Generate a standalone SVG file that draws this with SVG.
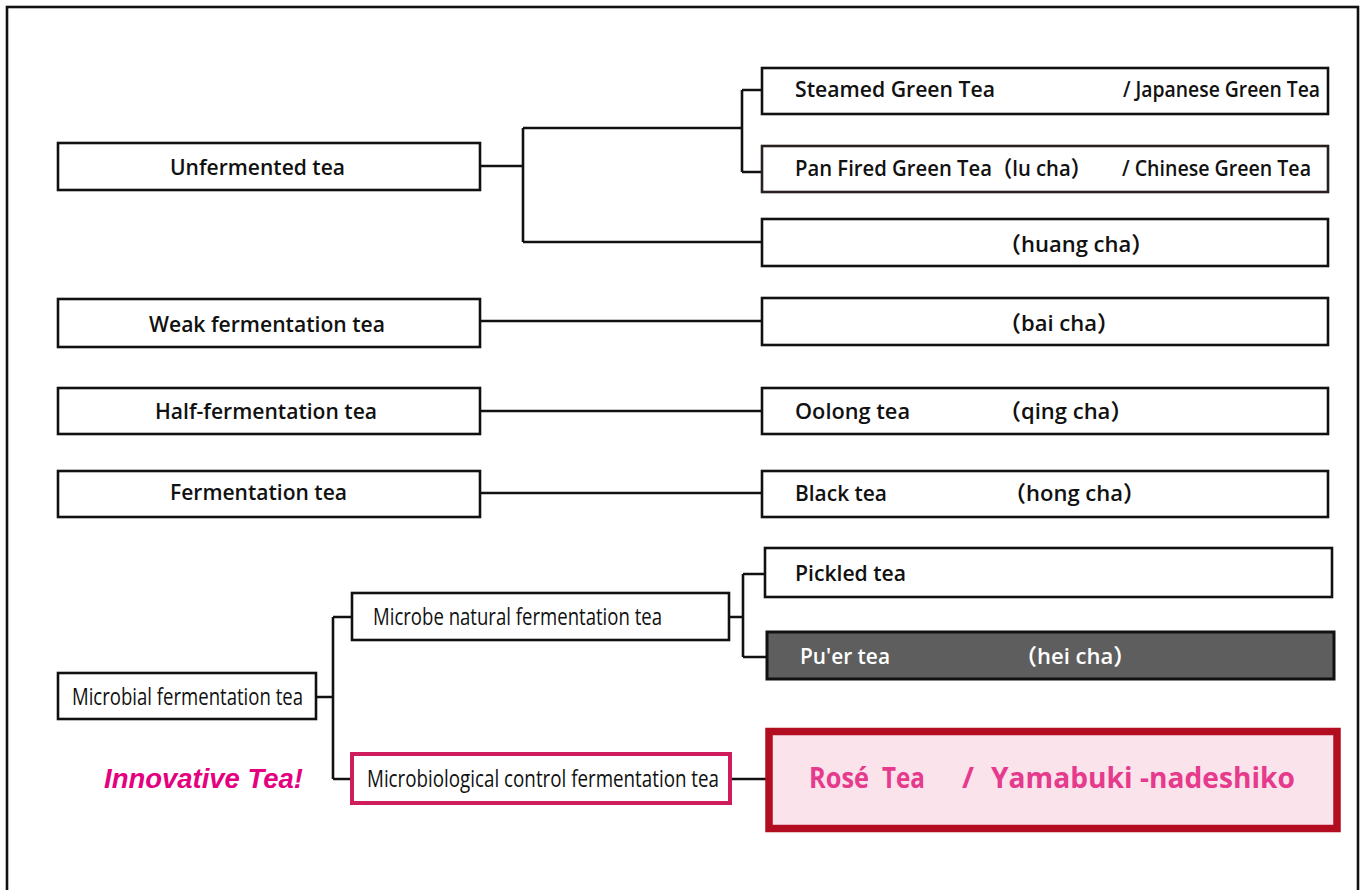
<svg xmlns="http://www.w3.org/2000/svg" width="1364" height="890" viewBox="0 0 1364 890">
<style>
.bx{fill:#fff;stroke:#111;stroke-width:2.6}
.t{font-family:"Open Sans","Noto Sans","Noto Sans CJK JP",sans-serif;font-weight:600;font-size:22px;fill:#111}
.c{font-family:"Open Sans","Noto Sans","Noto Sans CJK JP",sans-serif;font-weight:500;font-size:23px;fill:#111}
.w{fill:#fff}
.cn{fill:none;stroke:#111;stroke-width:2.6}
.rose{font-family:"Open Sans","Noto Sans",sans-serif;font-weight:700;font-size:29px;fill:#e63a8c}
.inn{font-family:"Liberation Sans",Arial,sans-serif;font-weight:700;font-style:italic;font-size:28px;fill:#e4007f}
</style>
<rect x="7" y="7" width="1351" height="900" fill="#fff" stroke="#111" stroke-width="2.6"/>
<g id="connectors" class="cn">
<path d="M480 166H523M523 128V242M523 128H742M742 90V172M742 90H762M742 172H762M523 242H762"/>
<path d="M480 321H762M480 411H762M480 493H762"/>
<path d="M316 697H333M333 617V779M333 617H352M333 779H352"/>
<path d="M729 617H743M743 574V657M743 574H765M743 657H767M730 779H766"/>
</g>
<g id="unfermented"><rect class="bx" x="58" y="143" width="422" height="47"/><text class="t" x="170" y="175" textLength="175" lengthAdjust="spacingAndGlyphs">Unfermented tea</text></g>
<g id="weak"><rect class="bx" x="58" y="299" width="422" height="48"/><text class="t" x="149" y="332" textLength="236" lengthAdjust="spacingAndGlyphs">Weak fermentation tea</text></g>
<g id="half"><rect class="bx" x="58" y="388" width="422" height="46"/><text class="t" x="155" y="419" textLength="222" lengthAdjust="spacingAndGlyphs">Half-fermentation tea</text></g>
<g id="fermentation"><rect class="bx" x="58" y="471" width="422" height="46"/><text class="t" x="170" y="500" textLength="177" lengthAdjust="spacingAndGlyphs">Fermentation tea</text></g>
<g id="steamed"><rect class="bx" x="762" y="68" width="566" height="46"/><text class="t" x="795" y="97" textLength="200" lengthAdjust="spacingAndGlyphs">Steamed Green Tea</text><text class="t" x="1123" y="97" textLength="197" lengthAdjust="spacingAndGlyphs">/ Japanese Green Tea</text></g>
<g id="panfired"><rect class="bx" x="762" y="146" width="566" height="46" style="stroke:#2b2020"/><text class="t" x="795" y="176" textLength="296" lengthAdjust="spacingAndGlyphs">Pan Fired Green Tea（lu cha）</text><text class="t" x="1122" y="176" textLength="189" lengthAdjust="spacingAndGlyphs">/  Chinese Green Tea</text></g>
<g id="huang"><rect class="bx" x="762" y="219" width="566" height="47"/><text class="t" x="999" y="252">（huang cha）</text></g>
<g id="bai"><rect class="bx" x="762" y="298" width="566" height="47"/><text class="t" x="999" y="331">（bai cha）</text></g>
<g id="oolong"><rect class="bx" x="762" y="388" width="566" height="46"/><text class="t" x="795" y="419" textLength="115" lengthAdjust="spacingAndGlyphs">Oolong tea</text><text class="t" x="999" y="419">（qing cha）</text></g>
<g id="black"><rect class="bx" x="762" y="471" width="566" height="46"/><text class="t" x="795" y="501" textLength="92" lengthAdjust="spacingAndGlyphs">Black tea</text><text class="t" x="1004" y="501">（hong cha）</text></g>
<g id="microbial"><rect class="bx" x="58" y="673" width="258" height="46"/><text class="c" x="72" y="705" textLength="231" lengthAdjust="spacingAndGlyphs">Microbial fermentation tea</text></g>
<g id="natural"><rect class="bx" x="352" y="593" width="377" height="47"/><text class="c" x="373" y="625" textLength="289" lengthAdjust="spacingAndGlyphs">Microbe natural fermentation tea</text></g>
<g id="control"><rect x="352" y="754" width="378" height="49" fill="#fff" stroke="#cf1c5c" stroke-width="4"/><text class="c" x="367" y="787" textLength="352" lengthAdjust="spacingAndGlyphs">Microbiological control fermentation tea</text></g>
<g id="innovative"><text class="inn" x="104" y="788" textLength="199" lengthAdjust="spacingAndGlyphs">Innovative Tea!</text></g>
<g id="pickled"><rect class="bx" x="765" y="548" width="567" height="49"/><text class="t" x="795" y="581" textLength="111" lengthAdjust="spacingAndGlyphs">Pickled tea</text></g>
<g id="puer"><rect x="767" y="632" width="567" height="47" fill="#5e5e5e" stroke="#111" stroke-width="3"/><text class="t w" x="800" y="664" textLength="90" lengthAdjust="spacingAndGlyphs">Pu'er tea</text><text class="t w" x="1015" y="664">（hei cha）</text></g>
<g id="rose"><rect x="769" y="731.5" width="568" height="97" fill="#fbe3ec" stroke="#b30d22" stroke-width="7.5"/><text class="rose" y="788"><tspan x="809" textLength="60" lengthAdjust="spacingAndGlyphs">Rosé</tspan><tspan x="882" textLength="43" lengthAdjust="spacingAndGlyphs">Tea</tspan><tspan x="962">/</tspan><tspan x="991" textLength="304" lengthAdjust="spacingAndGlyphs">Yamabuki -nadeshiko</tspan></text></g>
</svg>
